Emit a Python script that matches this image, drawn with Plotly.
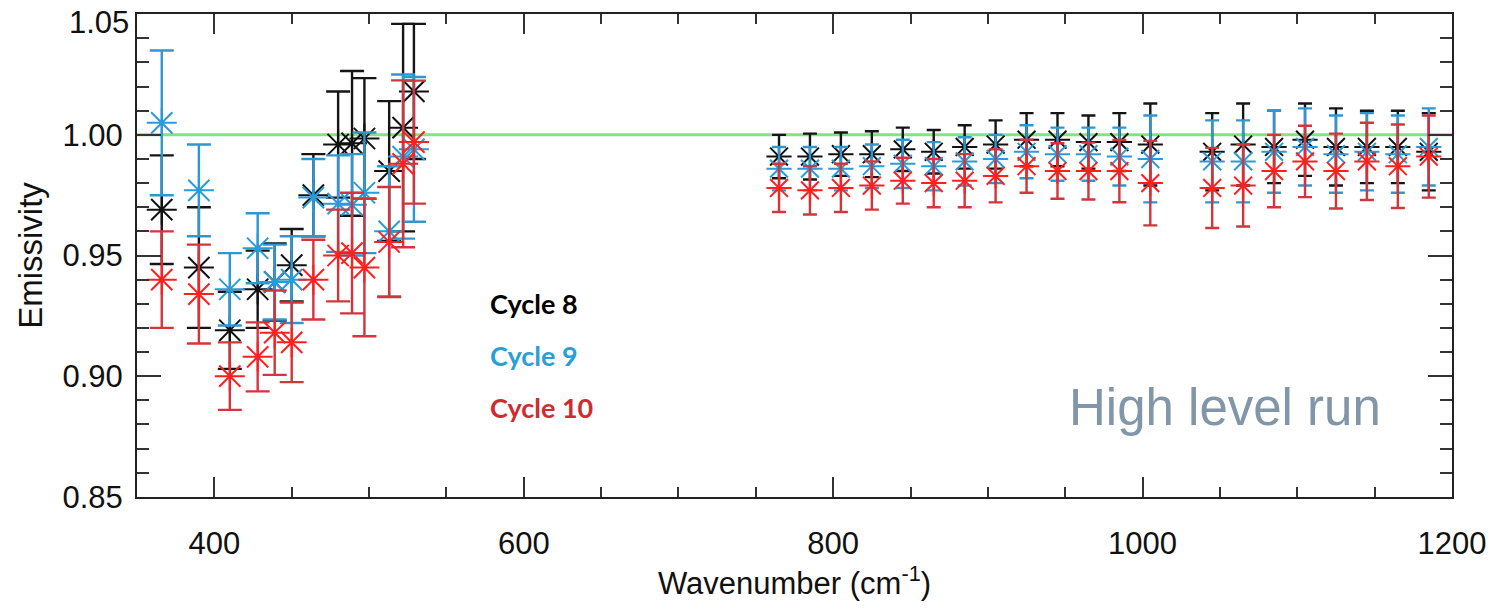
import plotly.graph_objects as go

# ---------------- data ----------------
wavenumber_low = [366, 390, 410, 428, 439, 450, 464, 480, 489, 497, 513, 522, 529]
wavenumber_high = [765, 785, 805, 825, 845, 865, 885, 905, 925, 945, 965, 985, 1005,
                   1045, 1065, 1085, 1105, 1125, 1145, 1165, 1185]

cycle8_low = [0.969, 0.945, 0.919, 0.936, 0.939, 0.946, 0.975, 0.996, 0.9965, 0.9985, 0.985, 1.003, 1.018]
cycle8_low_err = [0.0225, 0.025, 0.016, 0.016, 0.016, 0.015, 0.017, 0.022, 0.030, 0.025, 0.029, 0.043, 0.028]
cycle9_low = [1.005, 0.977, 0.936, 0.953, 0.939, 0.940, 0.974, 0.9715, 0.971, 0.976, 0.960, 0.991, 0.994]
cycle9_low_err = [0.030, 0.019, 0.015, 0.0145, 0.0155, 0.018, 0.016, 0.020, 0.021, 0.025, 0.027, 0.034, 0.030]
cycle10_low = [0.940, 0.934, 0.900, 0.908, 0.918, 0.914, 0.940, 0.950, 0.951, 0.945, 0.9556, 0.988, 0.997]
cycle10_low_err = [0.020, 0.0205, 0.014, 0.0143, 0.0175, 0.0165, 0.0165, 0.019, 0.025, 0.0285, 0.0228, 0.0346, 0.0255]

cycle8_high = [0.991, 0.991, 0.992, 0.992, 0.994, 0.993, 0.995, 0.996, 0.998, 0.998, 0.997, 0.997, 0.996,
               0.993, 0.996, 0.995, 0.998, 0.995, 0.995, 0.995, 0.993]
cycle8_high_err = [0.009, 0.0095, 0.009, 0.0095, 0.009, 0.009, 0.009, 0.010, 0.011, 0.011, 0.011, 0.012, 0.017,
                   0.016, 0.017, 0.015, 0.015, 0.016, 0.015, 0.015, 0.016]
cycle9_high = [0.986, 0.986, 0.986, 0.987, 0.988, 0.987, 0.989, 0.990, 0.993, 0.992, 0.992, 0.991, 0.990,
               0.989, 0.989, 0.993, 0.995, 0.992, 0.993, 0.992, 0.995]
cycle9_high_err = [0.009, 0.009, 0.009, 0.009, 0.010, 0.010, 0.010, 0.010, 0.011, 0.011, 0.011, 0.012, 0.018,
                   0.017, 0.017, 0.017, 0.016, 0.016, 0.016, 0.016, 0.016]
cycle10_high = [0.978, 0.977, 0.978, 0.979, 0.981, 0.980, 0.981, 0.983, 0.987, 0.985, 0.985, 0.985, 0.980,
                0.978, 0.979, 0.985, 0.989, 0.985, 0.989, 0.987, 0.991]
cycle10_high_err = [0.010, 0.010, 0.010, 0.010, 0.0095, 0.010, 0.011, 0.011, 0.011, 0.0115, 0.0118, 0.0129, 0.0175,
                    0.0166, 0.017, 0.015, 0.0148, 0.0155, 0.016, 0.0173, 0.017]

series_names = ["Cycle 8", "Cycle 9", "Cycle 10"]
x_ticks = [400, 600, 800, 1000, 1200]
y_ticks = [0.85, 0.90, 0.95, 1.00, 1.05]
y_tick_text = ["0.85", "0.90", "0.95", "1.00", ""]
y_top_label = "1.05"

# ---------------- styles ----------------
marker_colors = ["#111111", "#2a9bd8", "#ff1f1f"]
bar_colors = ["#151515", "#2f97d0", "#d2353b"]
text_colors = ["#000000", "#2a9fd6", "#d02b2f"]
tick_font = dict(family="Liberation Sans", size=31, color="#111111")

groups = [
    (wavenumber_low, [cycle8_low, cycle9_low, cycle10_low],
     [cycle8_low_err, cycle9_low_err, cycle10_low_err], 25, 12),
    (wavenumber_high, [cycle8_high, cycle9_high, cycle10_high],
     [cycle8_high_err, cycle9_high_err, cycle10_high_err], 21, 7),
]

fig = go.Figure()
for i in range(3):
    for xs, ys_list, errs_list, msize, capw in groups:
        fig.add_trace(go.Scatter(
            x=xs, y=ys_list[i], mode="markers", name=series_names[i], showlegend=False,
            marker=dict(symbol="asterisk-open", size=msize, color=marker_colors[i],
                        line=dict(color=marker_colors[i], width=2)),
            error_y=dict(type="data", array=errs_list[i], visible=True,
                         color=bar_colors[i], thickness=2.4, width=capw),
        ))

fig.add_shape(type="line", xref="paper", x0=0, x1=1, yref="y", y0=1.0, y1=1.0,
              line=dict(color="#86e086", width=3), layer="below")

for i, (name, yy) in enumerate(zip(series_names, [0.930, 0.9086, 0.8871])):
    fig.add_annotation(x=577, y=yy, xref="x", yref="y", text="<b>%s</b>" % name,
                       showarrow=False, xanchor="left", yanchor="middle",
                       font=dict(family="Lato", size=27, color=text_colors[i]))

fig.add_annotation(x=951, y=0.887, xref="x", yref="y", text="High level run",
                   showarrow=False, xanchor="left", yanchor="middle",
                   font=dict(family="Liberation Sans", size=51, color="#8196a8"))

# top y tick label, nudged down so it stays inside the page
fig.add_annotation(x=0, xref="paper", y=1.05, yref="y", text=y_top_label,
                   showarrow=False, xanchor="right", yanchor="middle",
                   xshift=-6, yshift=-8, font=tick_font)

axis_common = dict(showline=True, linecolor="#222222", linewidth=2, mirror="ticks",
                   ticks="inside", tickcolor="#333333", tickwidth=2, showgrid=False,
                   zeroline=False, automargin=False, tickfont=tick_font)

fig.update_xaxes(range=[350, 1200.01], tickvals=x_ticks, ticklen=20, ticklabelstandoff=18,
                 minor=dict(dtick=50, tick0=0, ticks="inside", ticklen=10, tickcolor="#333333", tickwidth=1.5),
                 title=dict(text="Wavenumber (cm<sup>-1</sup>)", standoff=4,
                            font=dict(family="Liberation Sans", size=31, color="#111111")),
                 **axis_common)
fig.update_yaxes(range=[0.8499, 1.0501], tickvals=y_ticks, ticktext=y_tick_text, ticklen=24,
                 ticklabelstandoff=6,
                 minor=dict(dtick=0.01, tick0=0, ticks="inside", ticklen=12, tickcolor="#333333", tickwidth=1.5),
                 title=dict(text="Emissivity", standoff=10,
                            font=dict(family="Liberation Sans", size=33, color="#111111")),
                 **axis_common)

fig.update_layout(width=1493, height=615, margin=dict(l=137, r=41, t=14, b=118),
                  plot_bgcolor="white", paper_bgcolor="white", showlegend=False)

fig.write_html("out.html")
